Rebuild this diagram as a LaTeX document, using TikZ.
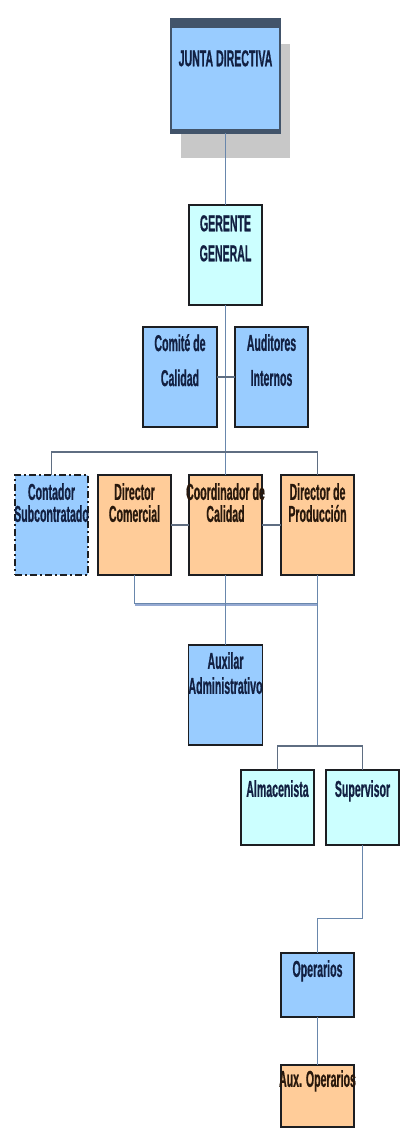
\documentclass[tikz,border=0pt]{standalone}
\usepackage{fontspec}
\setmainfont{Liberation Sans}[FakeStretch=0.46, BoldFeatures={FakeBold=0.6}]
\usetikzlibrary{positioning, shadows}

\definecolor{azul}{RGB}{153,204,255}
\definecolor{celeste}{RGB}{204,255,255}
\definecolor{naranja}{RGB}{255,204,153}
\definecolor{banda}{RGB}{66,84,106}
\definecolor{borde}{RGB}{28,30,34}
\definecolor{linea}{RGB}{105,135,172}
\definecolor{gris}{RGB}{95,110,130}
\definecolor{sombra}{RGB}{200,200,200}
\definecolor{tinta}{RGB}{18,32,66}
\definecolor{tintacafe}{RGB}{40,24,12}
\definecolor{franja}{RGB}{150,170,210}

\begin{document}
\begin{tikzpicture}[
  every label/.style={font=\fontsize{23}{22}\selectfont\bfseries, text=tinta},
  txt/.style={anchor=north, align=center, inner sep=0pt, yshift=-8pt},
  cafe/.style={txt, text=tintacafe},
  cargo/.style={draw=borde, line width=1.6pt, minimum width=73pt, minimum height=100pt, inner sep=0pt, outer sep=0pt},
  azulbox/.style={cargo, fill=azul},
  celestebox/.style={cargo, fill=celeste},
  naranjabox/.style={cargo, fill=naranja},
  enlace/.style={draw=linea, line width=1pt},
  barra/.style={draw=gris, line width=1.4pt}
]
\useasboundingbox (0,0) rectangle (406pt,-1135pt);

% Nodes
\node[azulbox, anchor=north, minimum width=109pt, minimum height=114pt, draw=banda,
  drop shadow={shadow xshift=10pt, shadow yshift=-25pt, fill=sombra, opacity=1},
  path picture={\fill[banda] (path picture bounding box.north west) rectangle ([yshift=-9pt]path picture bounding box.north east);
    \fill[banda] (path picture bounding box.south west) rectangle ([yshift=4pt]path picture bounding box.south east);},
  label={[txt, yshift=-23pt]north:JUNTA DIRECTIVA}] (junta) at (225.5pt,-19pt) {};
\node[celestebox, below=72pt of junta, label={[txt, yshift=-2pt]north:GERENTE\\[8pt]GENERAL}] (gerente) {};
\node[azulbox, below=22pt of gerente, xshift=-45.5pt, minimum width=74pt, label={[txt, yshift=1pt]north:Comité de\\[13pt]Calidad}] (comite) {};
\node[azulbox, right=18pt of comite, label={[txt, yshift=1pt]north:Auditores\\[13pt]Internos}] (auditores) {};

\node[naranjabox, below=170pt of gerente, label={[cafe]north:Coordinador de\\Calidad}] (coordinador) {};
\node[naranjabox, left=18pt of coordinador, label={[cafe]north:Director\\Comercial}] (comercial) {};
\node[azulbox, left=10pt of comercial, dash pattern=on 7pt off 3pt on 2pt off 3pt, label={[txt]north:Contador\\Subcontratado}] (contador) {};
\node[naranjabox, right=19pt of coordinador, label={[cafe]north:Director de\\Producción}] (produccion) {};

\node[azulbox, below=70pt of coordinador, minimum width=74pt, label={[txt, yshift=1pt]north:Auxilar\\[3pt]Administrativo}] (auxiliar) {};
\node[celestebox, below=195pt of produccion, xshift=-40pt, minimum height=75pt, label={[txt, yshift=-2pt]north:Almacenista}] (almacenista) {};
\node[celestebox, right=12pt of almacenista, label={[txt, yshift=-2pt]north:Supervisor}, minimum height=75pt] (supervisor) {};
\node[azulbox, below=108pt of supervisor, xshift=-45pt, minimum height=64pt, label={[txt, yshift=1pt]north:Operarios}] (operarios) {};
\node[naranjabox, below=48pt of operarios, minimum height=62pt, label={[cafe, yshift=3pt]north:Aux. Operarios}] (auxoperarios) {};

% Connections
\draw[enlace] (junta) -- (gerente);
\draw[enlace] (gerente) -- (coordinador);
\draw[barra] (comite) -- (auditores);
\draw[barra] (contador.north) -- ++(0,23pt) -| (produccion.north);
\draw[barra] (comercial) -- (coordinador);
\draw[barra] (coordinador) -- (produccion);
\draw[franja, line width=2.5pt] (comercial.south) ++(0,-29.5pt) -- ++(183pt,0);
\draw[enlace] (comercial.south) -- ++(0,-28pt) -| (produccion.south);
\draw[enlace] (coordinador) -- (auxiliar);
\draw[enlace] (produccion.south) -- ++(0,-171pt) coordinate (reparto);
\draw[barra] (almacenista.north) |- (reparto) -| (supervisor.north);
\draw[enlace] (supervisor.south) -- ++(0,-73pt) -| (operarios.north);
\draw[enlace] (operarios) -- (auxoperarios);

\end{tikzpicture}
\end{document}
